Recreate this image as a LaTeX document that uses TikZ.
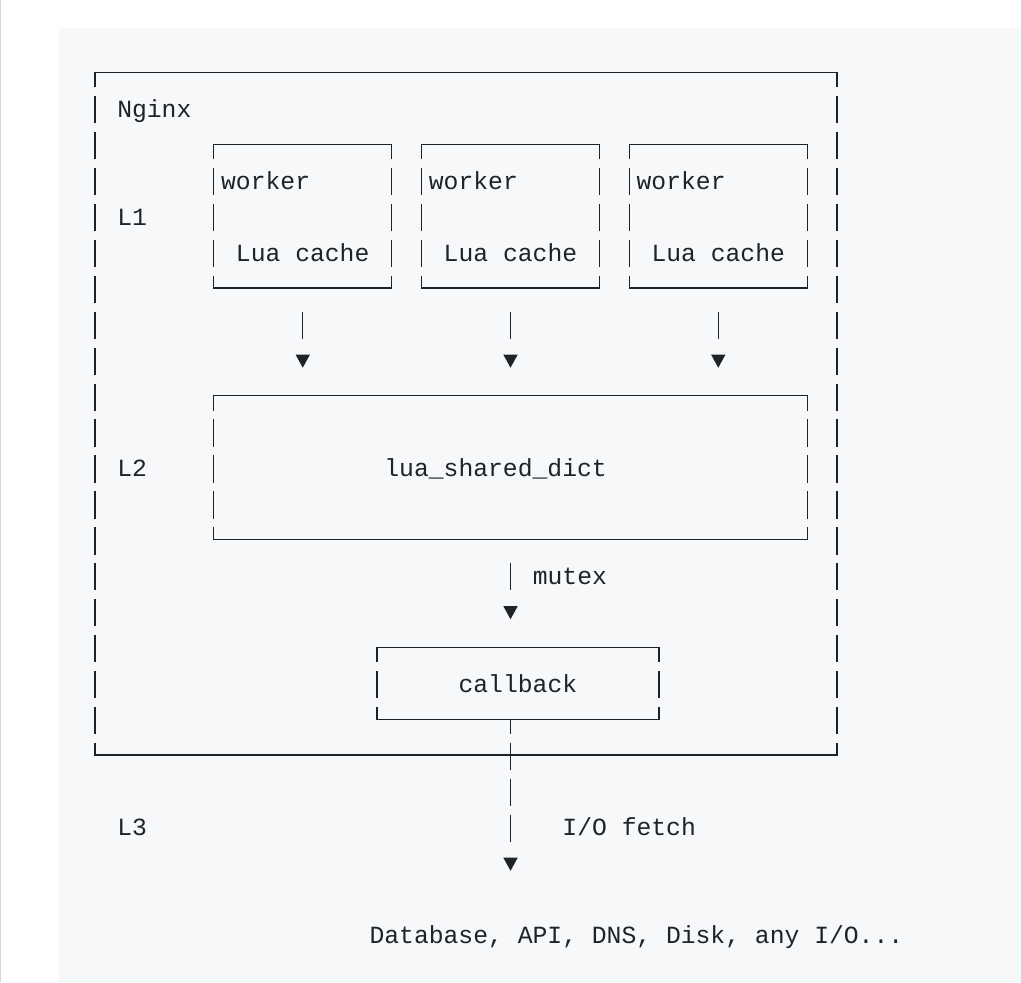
\documentclass[tikz,border=0pt]{standalone}
\usepackage{fontspec}
\setmonofont{Liberation Mono}
\usepackage{tikz}
\usetikzlibrary{arrows.meta, positioning}

\definecolor{ink}{HTML}{1F2328}
\definecolor{codebg}{HTML}{F6F8FA}
\definecolor{rulegray}{HTML}{D0D7DE}

\begin{document}
\begin{tikzpicture}[
    x=11.13pt, y=-26.95pt,
    line width=1pt, draw=ink,
    layer/.style 2 args={rectangle, inner sep=0pt, outer sep=0pt,
        minimum width=#1*11.13pt, minimum height=#2*26.95pt},
    mono/.style={anchor=base west, inner sep=0pt, outer sep=0pt, text=ink,
        font=\ttfamily\fontsize{18.53pt}{22pt}\selectfont},
    side/.style={dash pattern=on 20.45pt off 6.5pt, dash phase=9.2pt},
    flow/.style={-{Triangle[width=10.5pt, length=9.8pt]}, shorten >=21.05pt},
    feed/.style={flow, shorten <=17.75pt, dash pattern=on 20.45pt off 60pt}]

        % page and code block
        \fill[white] (-71.25pt,54.3pt) rectangle (694.5pt,-682.2pt);
        \fill[codebg] (-27pt,33.3pt) rectangle (694.5pt,-682.2pt);
        \fill[rulegray] (-71.25pt,54.3pt) rectangle (-70.25pt,-682.2pt);

        \node[layer={50}{19}] (nginx_box) at (25,9.5) {};

        \node[layer={12}{4}] (w_1) at (14,4) {};
        \node[layer={12}{4}] (w_2) [right=22.26pt of w_1] {};
        \node[layer={12}{4}] (w_3) [right=22.26pt of w_2] {};

        \node[layer={40}{4}] (l2) [below=80.85pt of w_2] {};

        \node[layer={19}{2}] (cb) [below=80.85pt of l2, xshift=5.565pt] {};

        \coordinate (io) at (28,23);

        \foreach \b in {nginx_box, w_1, w_2, w_3, l2, cb} {
            \draw[line cap=rect] (\b.north west) -- (\b.north east)
                                 (\b.south west) -- (\b.south east);
            \draw[side] (\b.north west) -- (\b.south west)
                        (\b.north east) -- (\b.south east);
        }

        \node[mono] (nginx) at (1.5,1.25) {Nginx};
        \node[mono] (l_1) at (1.5,4.25) {L1};
        \node[mono] (l_2) at (1.5,11.25) {L2};
        \node[mono] (l_3) at (1.5,21.25) {L3};

        \foreach \i/\c in {1/8, 2/22, 3/36} {
            \node[mono] (worker_\i) at (\c+0.5,3.25) {worker};
            \node[mono] (cache_\i) at (\c+1.5,5.25) {Lua cache};
        }

        \node[mono] (dict) at (19.5,11.25) {lua\_shared\_dict};
        \node[mono] (mutex) at (29.5,14.25) {mutex};
        \node[mono] (callback) at (24.5,17.25) {callback};
        \node[mono] (fetch) at (31.5,21.25) {I/O fetch};
        \node[mono] (backend) at (18.5,24.25) {Database, API, DNS, Disk, any I/O...};

        \foreach \w in {w_1, w_2, w_3}
            \draw[feed] (\w.south) -- (\w.south |- l2.north);

        \draw[feed] (l2.south) -- (l2.south |- cb.north);

        \draw[flow, dash pattern=on 11.25pt off 6.5pt on 20.45pt off 6.5pt
              on 20.45pt off 6.5pt on 20.45pt off 40pt] (cb.south -| io) -- (io);

\end{tikzpicture}
\end{document}
